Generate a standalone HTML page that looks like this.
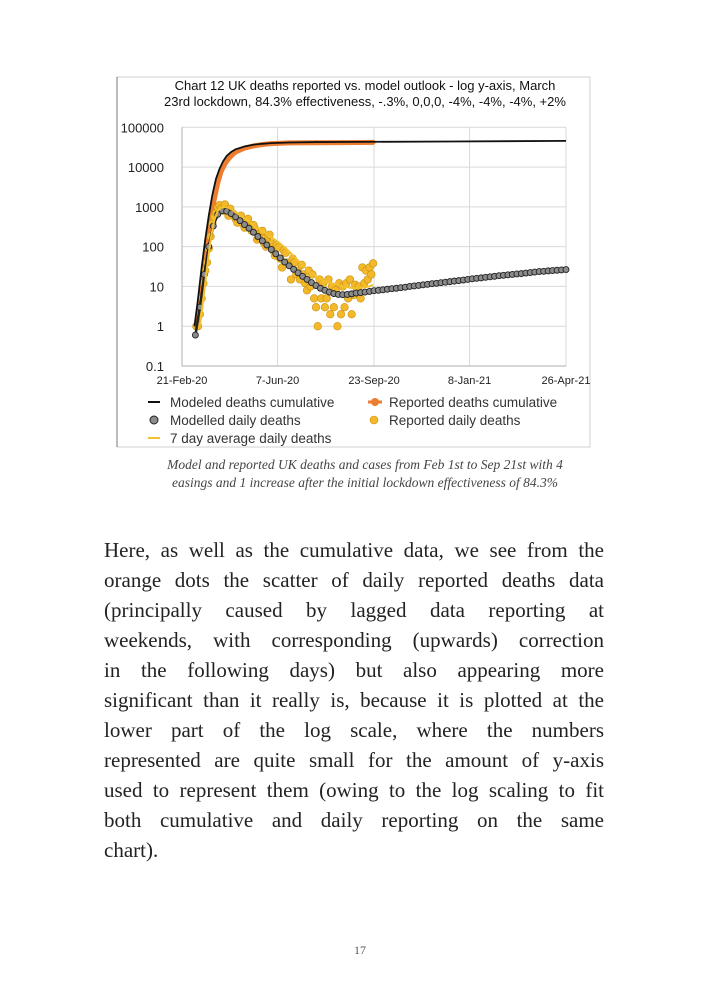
<!DOCTYPE html>
<html><head><meta charset="utf-8"><style>
body{margin:0;width:709px;height:992px;background:#fff;position:relative;overflow:hidden;font-family:"Liberation Serif",serif}
.ln{position:absolute;left:104px;width:500px;font-size:21px;line-height:30px;text-align:justify;text-align-last:justify;color:#222;white-space:nowrap}
.ln.last{text-align-last:left}
.cap{position:absolute;left:100px;width:530px;text-align:center;font-style:italic;font-size:13.5px;color:#444;line-height:18px}
</style></head><body>
<svg id="chart" width="709" height="460" style="position:absolute;left:0;top:0" font-family="Liberation Sans, sans-serif"></svg>
<div class="cap" style="top:456px">Model and reported UK deaths and cases from Feb 1st to Sep 21st with 4<br>easings and 1 increase after the initial lockdown effectiveness of 84.3%</div>
<div>
<div class="ln" style="top:535px">Here, as well as the cumulative data, we see from the</div>
<div class="ln" style="top:565px">orange dots the scatter of daily reported deaths data</div>
<div class="ln" style="top:595px">(principally caused by lagged data reporting at</div>
<div class="ln" style="top:625px">weekends, with corresponding (upwards) correction</div>
<div class="ln" style="top:655px">in the following days) but also appearing more</div>
<div class="ln" style="top:685px">significant than it really is, because it is plotted at the</div>
<div class="ln" style="top:715px">lower part of the log scale, where the numbers</div>
<div class="ln" style="top:745px">represented are quite small for the amount of y-axis</div>
<div class="ln" style="top:775px">used to represent them (owing to the log scaling to fit</div>
<div class="ln" style="top:805px">both cumulative and daily reporting on the same</div>
<div class="ln last" style="top:835px">chart).</div>
</div>
<div style="position:absolute;top:943px;left:0;width:720px;text-align:center;font-size:12px;color:#555">17</div>
<script>
const yTicks=[100000,10000,1000,100,10,1,0.1];
const yTickLabels=["100000","10000","1000","100","10","1","0.1"];
const xTickDays=[0,107,215,322,430];
const xTickLabels=["21-Feb-20","7-Jun-20","23-Sep-20","8-Jan-21","26-Apr-21"];
const modelDailyDays=[15,20,25,30,35,40,45,50,55,60,65,70,75,80,85,90,95,100,105,110,115,120,125,130,135,140,145,150,155,160,165,170,175,180,185,190,195,200,205,210,215,220,225,230,235,240,245,250,255,260,265,270,275,280,285,290,295,300,305,310,315,320,325,330,335,340,345,350,355,360,365,370,375,380,385,390,395,400,405,410,415,420,425,430];
const modelDaily=[0.6,3,20,100,330,650,800,780,680,560,450,360,290,230,180,140,110,85,66,52,41,33,27,22,18,15,12.5,10.5,9,8,7.2,6.6,6.3,6.2,6.3,6.5,6.8,7,7.2,7.5,7.8,8,8.2,8.5,8.8,9,9.3,9.6,10,10.3,10.6,11,11.3,11.7,12,12.4,12.8,13.2,13.6,14,14.5,15,15.5,16,16.4,17,17.5,18,18.6,19,19.6,20,20.6,21,21.7,22.3,23,23.6,24,24.6,25,25.5,26,26.5];
const modelCumDays=[14,18,22,26,30,34,38,42,46,50,55,60,70,80,90,100,120,150,200,300,430];
const modelCum=[1,5,30,150,600,2000,5000,9000,14000,19000,24000,28000,33000,36500,38500,40000,41500,42500,43000,44000,45500];
const repCumDays=[16,20,24,28,32,36,40,44,48,52,56,60,70,80,90,100,120,150,180,214];
const repCum=[1,3,20,100,400,1500,4000,8000,12000,16000,20000,24000,30000,34000,37000,39000,40500,41000,41300,41800];
const avgDays=[20,24,28,32,36,40,44,48,52,56,60,66,72,78,84,90,96,102,108,114,120,126,132,138,144,150,156,162,168,174,180,186,192,198,204,210,214];
const avgDaily=[1,5,30,150,450,800,950,1000,950,850,720,600,480,380,300,250,200,160,130,100,75,55,40,30,22,18,15,13,12,11,10,9.5,9,9,9.5,10,11];
const repDailyDays=[16,18,20,22,24,26,28,30,32,34,36,38,40,42,44,46,48,50,52,54,56,58,60,62,64,66,68,70,72,74,76,78,80,82,84,86,88,90,92,94,96,98,100,102,104,106,108,110,112,114,116,118,120,122,124,126,128,130,132,134,136,138,140,142,144,146,148,150,152,154,156,158,160,162,164,166,168,170,172,174,176,178,180,182,184,186,188,190,192,194,196,198,200,202,204,206,208,210,212,214];
const repDaily=[1,1,2,5,12,25,40,90,180,380,560,700,980,1100,900,800,1150,850,600,900,700,650,500,400,550,600,380,300,450,500,300,250,350,280,150,170,220,250,120,100,180,200,120,80,60,110,95,50,30,80,70,40,35,15,50,40,20,25,15,35,20,12,8,25,10,20,5,3,1,15,5,12,3,5,15,2,10,3,8,1,12,2,10,3,12,5,15,2,6,11,8,10,5,30,12,25,15,30,20,38];

const NS="http://www.w3.org/2000/svg";
const svg=document.getElementById('chart');
const X0=182,X1=566,Y0=127.3,Y1=366;
function xs(d){return X0+(X1-X0)*d/430;}
function ys(v){return Y0+(Y1-Y0)*(5-Math.log10(v))/6;}
function mk(tag,attrs,parent){const e=document.createElementNS(NS,tag);for(const k in attrs)e.setAttribute(k,attrs[k]);(parent||svg).appendChild(e);return e;}

const frame=mk('rect',{x:117,y:77,width:473,height:370,fill:'none',stroke:'#d0d0d0','stroke-width':1});


const fl=mk('line',{x1:117,x2:117,y1:77,y2:447,stroke:'#777','stroke-width':1});


const t=mk('text',{x:365,y:90,'text-anchor':'middle','font-size':13,fill:'#111'});


mk('tspan',{x:365,dy:0},t).textContent='Chart 12 UK deaths reported vs. model outlook - log y-axis, March';
mk('tspan',{x:365,dy:16},t).textContent='23rd lockdown, 84.3% effectiveness, -.3%, 0,0,0, -4%, -4%, -4%, +2%';
yTicks.forEach((v,i)=>{
  const g=mk('line',{x1:X0,x2:X1,y1:ys(v),y2:ys(v),stroke:'#d9d9d9','stroke-width':1});
  
  
  const l=mk('text',{x:164,y:ys(v)+5,'text-anchor':'end','font-size':13,fill:'#222'});
  
  
  l.textContent=yTickLabels[i];
});
xTickDays.forEach((d,i)=>{
  const g=mk('line',{x1:xs(d),x2:xs(d),y1:Y0,y2:Y1,stroke:'#d9d9d9','stroke-width':1});
  
  
  const l=mk('text',{x:xs(d),y:384,'text-anchor':'middle','font-size':11,fill:'#222'});
  
  
  l.textContent=xTickLabels[i];
});
const ax=mk('path',{d:`M${X0} ${Y0}V${Y1}H${X1}`,fill:'none',stroke:'#bfbfbf','stroke-width':1.2});



function line(days,vals,attrs,name){
  const p=mk('polyline',Object.assign({points:days.map((d,i)=>xs(d)+','+ys(vals[i])).join(' '),fill:'none'},attrs));
  
  
}
line(repCumDays,repCum,{stroke:'#ed7d31','stroke-width':5},'reported-cumulative-line');
repCumDays.forEach((d,i)=>{const c=mk('circle',{cx:xs(d),cy:ys(repCum[i]),r:2.5,fill:'#ed7d31'});

});
repDailyDays.forEach((d,i)=>{const c=mk('circle',{cx:xs(d),cy:ys(repDaily[i]),r:3.8,fill:'#f4b92a',stroke:'#c9920f','stroke-width':0.6});

});
line(modelDailyDays,modelDaily,{stroke:'#222','stroke-width':2.5},'modelled-daily-line');
modelDailyDays.forEach((d,i)=>{const c=mk('circle',{cx:xs(d),cy:ys(modelDaily[i]),r:3,fill:'#8c8c8c',stroke:'#222','stroke-width':0.9});

});
line(avgDays,avgDaily,{stroke:'#f2c12e','stroke-width':2},'seven-day-average-line');
line(modelCumDays,modelCum,{stroke:'#111','stroke-width':1.8},'modeled-cumulative-line');

function leg(x,y,type,text,name){
  const g=mk('g',{});
  
  
  if(type==='black')mk('line',{x1:148,x2:160,y1:y,y2:y,stroke:'#111','stroke-width':2},g);
  if(type==='yellowline')mk('line',{x1:148,x2:160,y1:y,y2:y,stroke:'#f2c12e','stroke-width':2},g);
  if(type==='gray')mk('circle',{cx:154,cy:y,r:4,fill:'#8c8c8c',stroke:'#222'},g);
  if(type==='orange'){mk('line',{x1:368,x2:382,y1:y,y2:y,stroke:'#ed7d31','stroke-width':3},g);mk('circle',{cx:375,cy:y,r:4,fill:'#ed7d31'},g);}
  if(type==='yellow')mk('circle',{cx:374,cy:y,r:4,fill:'#f4b92a',stroke:'#c9920f','stroke-width':0.6},g);
  const tx=mk('text',{x:x,y:y+5,'font-size':13.5,fill:'#333'},g);tx.textContent=text;
}
leg(170,402,'black','Modeled deaths cumulative','legend-modeled-cumulative');
leg(389,402,'orange','Reported deaths cumulative','legend-reported-cumulative');
leg(170,420,'gray','Modelled daily deaths','legend-modelled-daily');
leg(389,420,'yellow','Reported daily deaths','legend-reported-daily');
leg(170,438,'yellowline','7 day average daily deaths','legend-seven-day-average');
</script>
</body></html>
